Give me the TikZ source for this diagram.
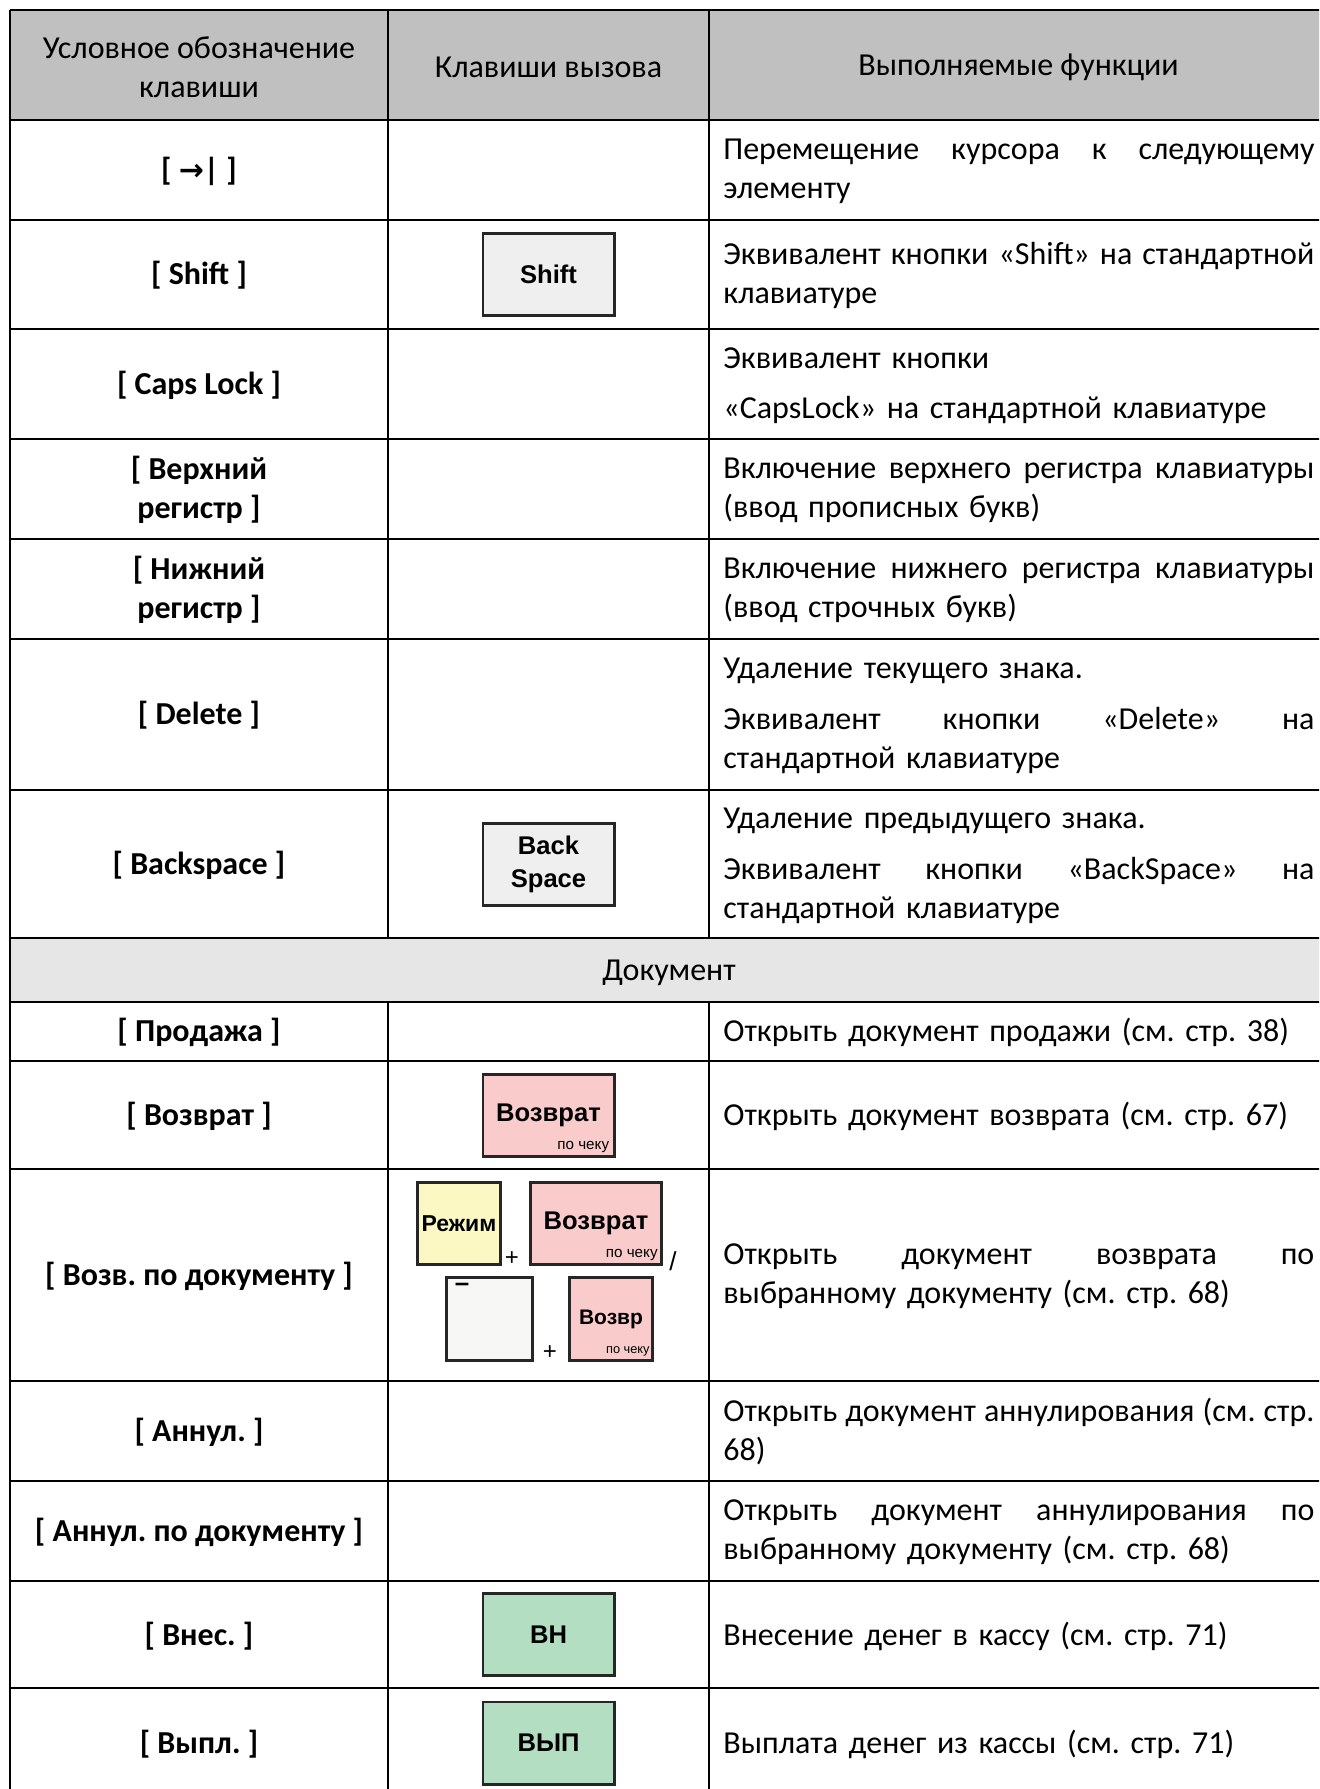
\documentclass[tikz,border=0pt]{standalone}
\usepackage{fontspec}
\setmainfont{Carlito}
\newfontfamily\keyfont{Liberation Sans}
\newfontfamily\arrowfont{DejaVu Sans}
\usetikzlibrary{positioning,calc}
\frenchspacing

\definecolor{headgray}{HTML}{C0C0C0}
\definecolor{secgray}{HTML}{E6E6E6}
\definecolor{keygray}{HTML}{EFEFEF}
\definecolor{keypink}{HTML}{F9CBCB}
\definecolor{keyyellow}{HTML}{FBF8C4}
\definecolor{keywhite}{HTML}{F7F7F5}
\definecolor{keygreen}{HTML}{B3DEC1}

% full-width (justified) line in the function column
\newcommand{\fillline}[1]{{\spaceskip=\fontdimen2\font plus 1fil minus 1pt\relax\makebox[\hsize][s]{#1}}}

\begin{document}
\begin{tikzpicture}[
    x=0.5pt, y=-0.5pt,
    grid/.style={line width=0.9pt},
    hdr/.style={font=\fontsize{16}{19.5}\selectfont, align=center, inner sep=0pt},
    keyname/.style={font=\bfseries\fontsize{16}{19.5}\selectfont, align=center, inner sep=0pt},
    func/.style={font=\fontsize{16}{19.5}\selectfont, text width=295.5pt, align=left, inner sep=0pt, anchor=west},
    keycap/.style={draw=black!85, line width=1.4pt, fill=#1, minimum width=65.6pt, minimum height=41.1pt,
                   inner sep=0pt, align=center, font=\keyfont\bfseries\fontsize{12.8}{16.5}\selectfont},
    chek/.style={font=\keyfont\fontsize{7.6}{9}\selectfont, inner sep=0pt, anchor=south east},
    sign/.style={font=\keyfont\fontsize{12}{14}\selectfont, inner sep=0pt}
]

\clip (0,0) rectangle (1319,1789);

% ===== FILLS =====
\fill[headgray] (10,10) rectangle (1328,120);
\fill[secgray] (10,938) rectangle (1328,1002);

% ===== GRID =====
\foreach \y in {10,120,220,329,439,539,639,790,938,1002,1061,1169,1381,1481,1581,1688,1798}
  \draw[grid] (10,\y) -- (1328,\y);
\draw[grid] (10,10) -- (10,1798);
\foreach \x in {388,709} {
  \draw[grid] (\x,10) -- (\x,938);
  \draw[grid] (\x,1002) -- (\x,1798);
}

% ==== COLUMNS ====
\def\xA{199}
\def\xB{548.5}
\def\xC{723}

% ===== HEADER =====
\node[hdr] (h1) at (\xA,67) {Условное обозначение\\клавиши};
\node[hdr] (h2) at (\xB,67) {Клавиши вызова};
\node[hdr] (h3) at (1018.5,67) {Выполняемые функции};

% ===== COLUMN 1: KEY NAMES =====
\node[keyname] (n1) at (\xA,171) {[ {\arrowfont\fontsize{15}{18}\selectfont →}| ]};
\node[keyname] (n2) at (\xA,275) {[ Shift ]};
\node[keyname] (n3) at (\xA,385) {[ Caps Lock ]};
\node[keyname] (n4) at (\xA,490) {[ Верхний\\регистр ]};
\node[keyname] (n5) at (\xA,590) {[ Нижний\\регистр ]};
\node[keyname] (n6) at (\xA,715) {[ Delete ]};
\node[keyname] (n7) at (\xA,865) {[ Backspace ]};
\node[hdr] (sec) at (669,973) {Документ};
\node[keyname] (n8) at (\xA,1032) {[ Продажа ]};
\node[keyname] (n9) at (\xA,1116) {[ Возврат ]};
\node[keyname] (n10) at (\xA,1276) {[ Возв. по документу ]};
\node[keyname] (n11) at (\xA,1432) {[ Аннул. ]};
\node[keyname] (n12) at (\xA,1532) {[ Аннул. по документу ]};
\node[keyname] (n13) at (\xA,1636) {[ Внес. ]};
\node[keyname] (n14) at (\xA,1744) {[ Выпл. ]};

% ===== COLUMN 3: FUNCTIONS =====
\node[func] (f1) at (\xC,171) {\fillline{Перемещение курсора к следующему}\\элементу};
\node[func] (f2) at (\xC,275) {\fillline{Эквивалент кнопки «Shift» на стандартной}\\клавиатуре};
\node[func] (f3) at (\xC,386) {Эквивалент кнопки\\[5.7pt]«CapsLock» на стандартной клавиатуре};
\node[func] (f4) at (\xC,490) {\fillline{Включение верхнего регистра клавиатуры}\\(ввод прописных букв)};
\node[func] (f5) at (\xC,590) {\fillline{Включение нижнего регистра клавиатуры}\\(ввод строчных букв)};
\node[func] (f6) at (\xC,716) {Удаление текущего знака.\\[5.7pt]\fillline{Эквивалент кнопки «Delete» на}\\стандартной клавиатуре};
\node[func] (f7) at (\xC,866) {Удаление предыдущего знака.\\[5.7pt]\fillline{Эквивалент кнопки «BackSpace» на}\\стандартной клавиатуре};
\node[func] (f8) at (\xC,1032) {Открыть документ продажи (см. стр. 38)};
\node[func] (f9) at (\xC,1116) {Открыть документ возврата (см. стр. 67)};
\node[func] (f10) at (\xC,1276) {\fillline{Открыть документ возврата по}\\выбранному документу (см. стр. 68)};
\node[func] (f11) at (\xC,1432) {\fillline{Открыть документ аннулирования (см. стр.}\\68)};
\node[func] (f12) at (\xC,1532) {\fillline{Открыть документ аннулирования по}\\выбранному документу (см. стр. 68)};
\node[func] (f13) at (\xC,1636) {Внесение денег в кассу (см. стр. 71)};
\node[func] (f14) at (\xC,1744) {Выплата денег из кассы (см. стр. 71)};

% ===== COLUMN 2: KEYS =====
\node[keycap=keygray] (kshift) at (\xB,274.5) {Shift};
\node[keycap=keygray] (kback) at (\xB,864.5) {Back\\Space};

\node[keycap=keypink] (kvoz) at (\xB,1115.5) {Возврат};
\node[chek] (kvozc) at ([xshift=-3pt,yshift=2.5pt]kvoz.south east) {по чеку};

% combination: Режим + Возврат / – + Возвр
\node[keycap=keyyellow, minimum width=41.6pt, font=\keyfont\bfseries\fontsize{11.5}{14}\selectfont] (kmode) at (459,1223.5) {Режим};
\node[keycap=keypink] (kvoz2) at (596,1223.5) {Возврат};
\node[chek] (kvoz2c) at ([xshift=-2.5pt,yshift=2.5pt]kvoz2.south east) {по чеку};
\node[sign] (plus1) at (512,1259) {+};
\node[sign, font=\keyfont\fontsize{13}{15}\selectfont] (slash) at (673,1261) {/};

\node[keycap=keywhite, minimum width=43.1pt, minimum height=41.6pt] (kminus) at (489.5,1319) {};
\node[sign, font=\keyfont\bfseries\fontsize{13}{15}\selectfont] (kminusl) at (462,1287) {–};
\node[sign] (plus2) at (550,1353) {+};
\node[keycap=keypink, minimum width=41.6pt, minimum height=41.6pt, font=\keyfont\bfseries\fontsize{10.5}{13}\selectfont] (kvozb) at (611,1319) {Возвр};
\node[chek, font=\keyfont\fontsize{6.4}{8}\selectfont] (kvozbc) at ([xshift=-2pt,yshift=2.5pt]kvozb.south east) {по чеку};

\node[keycap=keygreen] (kvn) at (\xB,1634.5) {ВН};
\node[keycap=keygreen] (kvyp) at (\xB,1743) {ВЫП};

\end{tikzpicture}
\end{document}
